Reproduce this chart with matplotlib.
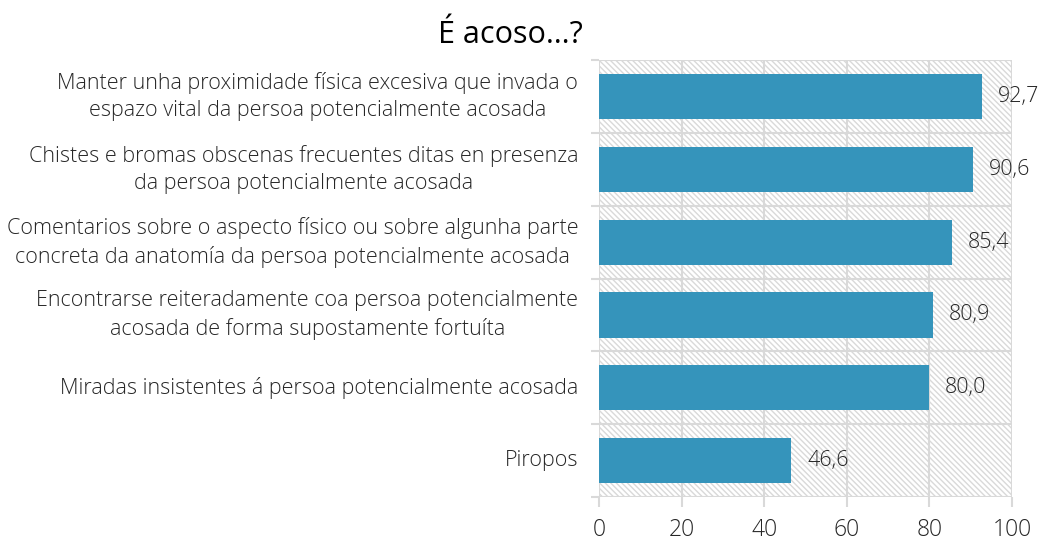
import matplotlib.pyplot as plt
from matplotlib.patches import Rectangle

categories = [
    'Manter unha proximidade física excesiva que invada o\nespazo vital da persoa potencialmente acosada',
    'Chistes e bromas obscenas frecuentes ditas en presenza\nda persoa potencialmente acosada',
    'Comentarios sobre o aspecto físico ou sobre algunha parte\nconcreta da anatomía da persoa potencialmente acosada',
    'Encontrarse reiteradamente coa persoa potencialmente\nacosada de forma supostamente fortuíta',
    'Miradas insistentes á persoa potencialmente acosada',
    'Piropos',
]
values = [92.7, 90.6, 85.4, 80.9, 80.0, 46.6]
xticks = [0, 20, 40, 60, 80, 100]

plt.rcParams['font.family'] = ['Open Sans', 'DejaVu Sans']
plt.rcParams['hatch.color'] = '#d9d9d9'
plt.rcParams['hatch.linewidth'] = 1.0

fig = plt.figure(figsize=(10.46, 5.42), dpi=100)
ax = fig.add_axes([0.5727, 0.083, 0.3948, 0.806])

ypos = list(range(len(values)))
ax.set_xlim(0, 100)
ax.set_ylim(len(values) - 0.5, -0.5)

# hatched plot area
ax.add_patch(Rectangle((0, 0), 1, 1, transform=ax.transAxes, facecolor='white',
                       edgecolor='#d9d9d9', hatch='\\' * 6, linewidth=0, zorder=0))

ax.barh(ypos, values, height=0.62, color='#3594bb', zorder=3)

for y, v in zip(ypos, values):
    ax.text(v + 3.8, y, f'{v:.1f}'.replace('.', ','), va='center', ha='left',
            fontsize=15.5, fontweight='light', color='#262626', zorder=4)

# grid
for x in xticks:
    ax.axvline(x, color='#d9d9d9', lw=1.5, zorder=1)
for b in [i - 0.5 for i in range(len(values) + 1)]:
    ax.axhline(b, color='#d9d9d9', lw=1.5, zorder=1)

for s in ax.spines.values():
    s.set_visible(False)

ax.set_xticks(xticks)
ax.set_xticklabels([str(x) for x in xticks], fontsize=16.5, fontweight='light', color='#262626')
ax.tick_params(axis='x', length=7, width=1.5, color='#d9d9d9', pad=8)
ax.set_yticks([i - 0.5 for i in range(len(values) + 1)], minor=False)
ax.set_yticklabels([])
ax.tick_params(axis='y', length=6, width=1.5, color='#d9d9d9')

for y, lab in zip(ypos, categories):
    ax.annotate(lab, xy=(0, y), xycoords=('axes fraction', 'data'),
                xytext=(-15, 0), textcoords='offset points',
                ha='right', va='center', multialignment='center',
                fontsize=15.5, fontweight='light', color='#262626', linespacing=1.4)

fig.text(0.488, 0.935, 'É acoso…?', ha='center', va='center', fontsize=22, color='black')

fig.savefig('out.png', dpi=100)
